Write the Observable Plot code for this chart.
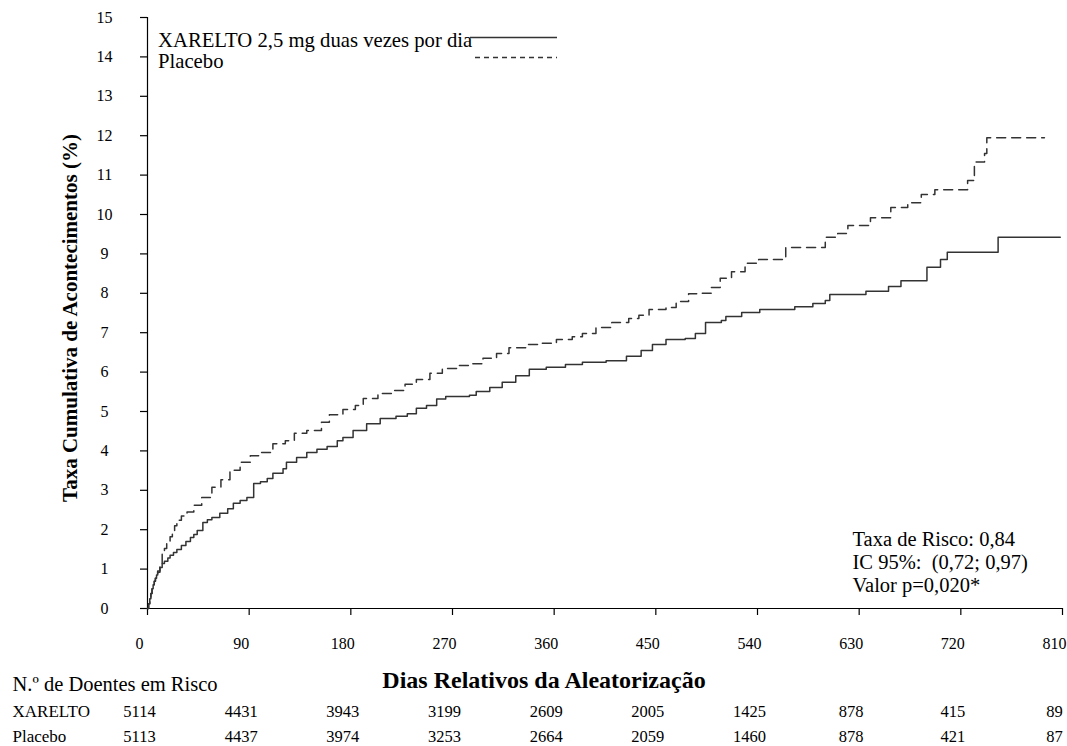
<!DOCTYPE html>
<html>
<head>
<meta charset="utf-8">
<script src="https://cdn.jsdelivr.net/npm/d3@7"></script>
<script src="https://cdn.jsdelivr.net/npm/@observablehq/plot@0.6"></script>
<style>
  html, body { margin: 0; padding: 0; background: #fff; }
  #wrap { position: relative; width: 1067px; height: 746px; overflow: hidden; }
  #wrap svg text { white-space: pre; }
  #legend { position: absolute; left: 0; top: 0; }
</style>
</head>
<body>
<div id="wrap"></div>
<script>
// ---- data ----
const xTicks = [0, 90, 180, 270, 360, 450, 540, 630, 720, 810];
const yTicks = [0, 1, 2, 3, 4, 5, 6, 7, 8, 9, 10, 11, 12, 13, 14, 15];

const xareltoDays = [0, 1, 2, 3, 4, 5, 6, 7, 8, 9, 11, 13, 15, 18, 20, 23, 26, 30, 34, 38, 41, 44, 49, 53, 57, 64, 71, 76, 82, 88, 94, 100, 106, 111, 120, 123, 132, 141, 150, 159, 168, 173, 182, 194, 206, 220, 230, 238, 247, 256, 264, 285, 291, 303, 314, 326, 338, 353, 370, 385, 406, 424, 437, 447, 459, 476, 485, 494, 508, 512, 526, 542, 573, 589, 600, 604, 636, 656, 667, 690, 702, 708, 753, 808];
const xareltoRate = [0, 0.12, 0.25, 0.38, 0.5, 0.6, 0.69, 0.77, 0.85, 0.92, 1.04, 1.14, 1.2, 1.28, 1.35, 1.42, 1.5, 1.6, 1.7, 1.8, 1.88, 1.98, 2.18, 2.25, 2.31, 2.42, 2.53, 2.67, 2.74, 2.82, 3.17, 3.22, 3.3, 3.43, 3.55, 3.71, 3.83, 3.96, 4.04, 4.11, 4.26, 4.34, 4.52, 4.69, 4.82, 4.88, 4.94, 5.08, 5.15, 5.32, 5.38, 5.41, 5.51, 5.61, 5.74, 5.91, 6.07, 6.12, 6.19, 6.25, 6.29, 6.4, 6.55, 6.7, 6.83, 6.85, 6.98, 7.26, 7.31, 7.41, 7.51, 7.59, 7.66, 7.74, 7.82, 7.97, 8.05, 8.17, 8.32, 8.66, 8.86, 9.04, 9.42, 9.42];

const placeboDays = [0, 1, 2, 3, 4, 5, 6, 7, 8, 9, 11, 13, 15, 17, 20, 22, 24, 26, 30, 35, 41, 48, 57, 65, 73, 82, 91, 101, 111, 122, 130, 141, 154, 161, 173, 184, 191, 204, 216, 228, 238, 250, 261, 274, 288, 297, 309, 320, 335, 349, 362, 376, 385, 397, 411, 426, 435, 444, 459, 468, 479, 491, 499, 507, 517, 529, 541, 565, 600, 611, 620, 640, 658, 673, 685, 697, 726, 732, 741, 743, 794];
const placeboRate = [0, 0.12, 0.25, 0.38, 0.5, 0.6, 0.69, 0.77, 0.86, 0.95, 1.15, 1.39, 1.52, 1.66, 1.82, 1.94, 2.1, 2.24, 2.35, 2.45, 2.62, 2.82, 3.08, 3.27, 3.51, 3.71, 3.88, 3.96, 4.18, 4.26, 4.45, 4.52, 4.73, 4.92, 5.05, 5.15, 5.33, 5.46, 5.53, 5.69, 5.81, 5.97, 6.09, 6.17, 6.21, 6.35, 6.47, 6.62, 6.7, 6.73, 6.83, 6.9, 6.98, 7.13, 7.26, 7.36, 7.44, 7.59, 7.64, 7.79, 7.99, 8.0, 8.15, 8.38, 8.55, 8.76, 8.86, 9.16, 9.42, 9.52, 9.72, 9.92, 10.18, 10.3, 10.51, 10.63, 10.86, 11.33, 11.55, 11.95, 11.95];

const riskHeader = "N.º de Doentes em Risco";
const riskGroups = ["XARELTO", "Placebo"];
const xareltoAtRisk = [5114, 4431, 3943, 3199, 2609, 2005, 1425, 878, 415, 89];
const placeboAtRisk = [5113, 4437, 3974, 3253, 2664, 2059, 1460, 878, 421, 87];

const seriesNames = ["XARELTO 2,5 mg duas vezes por dia", "Placebo"];
const statLines = ["Taxa de Risco: 0,84", "IC 95%:  (0,72; 0,97)", "Valor p=0,020*"];
const xTitle = "Dias Relativos da Aleatorização";
const yTitle = "Taxa Cumulativa de Acontecimentos (%)";

// ---- tables built from the arrays ----
const xarelto = xareltoDays.map((d, i) => ({day: d, rate: xareltoRate[i]}));
const placebo = placeboDays.map((d, i) => ({day: d, rate: placeboRate[i]}));

const serif = "'Liberation Serif', 'Times New Roman', Times, serif";
const ink = "#000";
const curveInk = "#333";

const chart = Plot.plot({
  width: 1067,
  height: 746,
  marginLeft: 147,
  marginRight: 5,
  marginTop: 17,
  marginBottom: 138,
  style: {fontFamily: serif, fontSize: "16px", color: ink, background: "#fff"},
  x: {domain: [0, 810], label: null},
  y: {domain: [0, 15], label: null},
  marks: [
    Plot.ruleY([0], {stroke: ink, strokeWidth: 1.2}),
    Plot.ruleX([0], {stroke: ink, strokeWidth: 1.2}),
    Plot.axisX({ticks: xTicks, tickSize: 7, tickFormat: () => "", stroke: ink, strokeWidth: 1.2}),
    Plot.axisX({ticks: xTicks, tickSize: 0, tickPadding: 29, dx: -8, fontSize: 16, fill: ink}),
    Plot.axisY({ticks: yTicks, tickSize: 7, tickPadding: 36, textAnchor: "middle", fontSize: 16, fill: ink, stroke: ink, strokeWidth: 1.2}),
    Plot.line(placebo, {x: "day", y: "rate", curve: "step-after", stroke: curveInk, strokeWidth: 1.5, strokeDasharray: "9,6"}),
    Plot.line(xarelto, {x: "day", y: "rate", curve: "step-after", stroke: curveInk, strokeWidth: 1.5}),
    Plot.text([statLines.join("\n")], {frameAnchor: "bottom-right", textAnchor: "start", lineAnchor: "bottom", dx: -210, dy: -17, fontSize: 20.5, lineHeight: 1.1, fill: ink}),
    Plot.text([xTitle], {frameAnchor: "bottom", dx: -61, dy: 79, fontSize: 24, fontWeight: "bold", fill: ink}),
    Plot.text([yTitle], {frameAnchor: "left", textAnchor: "middle", rotate: -90, dx: -77, dy: 5, fontSize: 21, fontWeight: "bold", fill: ink}),
    Plot.text([riskHeader], {frameAnchor: "bottom-left", textAnchor: "start", dx: -135, dy: 82, fontSize: 20.5, fill: ink}),
    Plot.text([riskGroups[0]], {frameAnchor: "bottom-left", textAnchor: "start", dx: -135, dy: 108, fontSize: 17, fill: ink}),
    Plot.text([riskGroups[1]], {frameAnchor: "bottom-left", textAnchor: "start", dx: -135, dy: 133, fontSize: 17, fill: ink}),
    Plot.text(xTicks, {x: d => d, text: (d, i) => String(xareltoAtRisk[i]), frameAnchor: "bottom", textAnchor: "middle", dx: -8, dy: 108, fontSize: 16.5, fill: ink}),
    Plot.text(xTicks, {x: d => d, text: (d, i) => String(placeboAtRisk[i]), frameAnchor: "bottom", textAnchor: "middle", dx: -8, dy: 133, fontSize: 16.5, fill: ink})
  ]
});

const wrap = document.getElementById("wrap");
wrap.appendChild(chart);

// ---- legend (overlay) ----
const leg = d3.select(wrap).append("svg").attr("id", "legend").attr("width", 600).attr("height", 90)
  .style("font-family", serif);
const legendRows = [
  {name: seriesNames[0], dash: null, y: 47, lx1: 470, lineY: 37.5},
  {name: seriesNames[1], dash: "5,4", y: 68, lx1: 475, lineY: 57.5}
];
legendRows.forEach(r => {
  leg.append("text").attr("x", 158).attr("y", r.y).attr("font-size", 20.7).attr("fill", ink).text(r.name);
  leg.append("line").attr("x1", r.lx1).attr("x2", 557).attr("y1", r.lineY).attr("y2", r.lineY)
    .attr("stroke", curveInk).attr("stroke-width", 1.3).attr("stroke-dasharray", r.dash);
});
</script>
</body>
</html>
